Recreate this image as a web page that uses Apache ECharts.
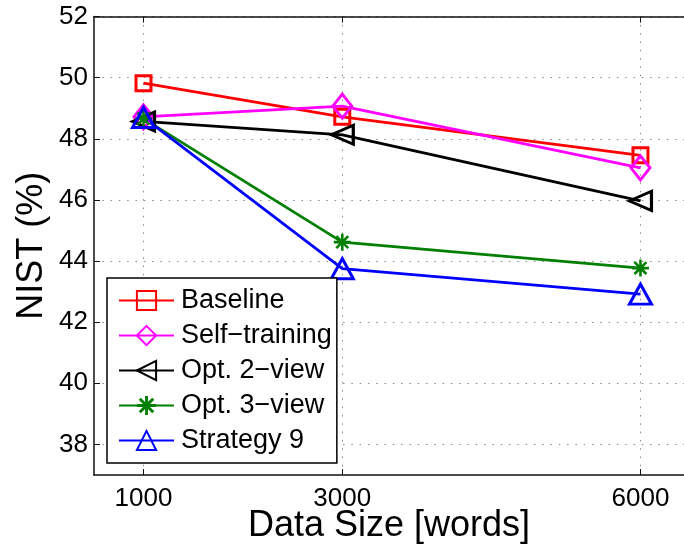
<!DOCTYPE html>
<html>
<head>
<meta charset="utf-8">
<script src="https://cdn.jsdelivr.net/npm/echarts@6/dist/echarts.min.js"></script>
<style>
  html, body { margin: 0; padding: 0; background: #fff; }
  #chart { width: 684px; height: 550px; }
</style>
</head>
<body>
<div id="chart"></div>
<script>
// Training data sizes (words) and NIST scores (%) per method
const dataSizes = [1000, 3000, 6000];
const baseline = [49.82, 48.72, 47.46];
const selfTraining = [48.72, 49.07, 47.05];
const opt2View = [48.57, 48.13, 45.97];
const opt3View = [48.66, 44.62, 43.77];
const strategy9 = [48.70, 43.75, 42.92];

const yTicks = [38, 40, 42, 44, 46, 48, 50, 52];
const xTicks = [1000, 3000, 6000];

const FONT = '"Liberation Sans", Arial, Helvetica, sans-serif';

// eight-spoke asterisk marker
const ASTERISK = 'path://M-1.5,-10 L1.5,-10 L1.5,10 L-1.5,10 Z ' +
  'M-10,-1.5 L10,-1.5 L10,1.5 L-10,1.5 Z ' +
  'M-5.9,-8.1 L8.1,5.9 L5.9,8.1 L-8.1,-5.9 Z ' +
  'M5.9,-8.1 L8.1,-5.9 L-5.9,8.1 L-8.1,5.9 Z';

function pairs(values) {
  return dataSizes.map((x, i) => [x, values[i]]);
}

function lineSeries(name, values, color, symbol, size, extra) {
  const hollow = symbol !== ASTERISK;
  return Object.assign({
    name: name,
    type: 'line',
    data: pairs(values),
    symbol: symbol,
    symbolSize: size,
    showAllSymbol: true,
    lineStyle: { color: color, width: 2.8 },
    itemStyle: hollow
      ? { color: 'rgba(255,255,255,0)', borderColor: color, borderWidth: 3 }
      : { color: color, borderWidth: 0 },
    emphasis: { disabled: true },
    animation: false,
    z: 3
  }, extra || {});
}

const plainNumber = v => String(v);

const chart = echarts.init(document.getElementById('chart'), null, { renderer: 'canvas' });

chart.setOption({
  backgroundColor: '#fff',
  animation: false,
  textStyle: { fontFamily: FONT },
  grid: {
    left: 94, top: 16.6, right: 0, bottom: 75,
    outerBoundsMode: 'none',
    containLabel: false,
    show: false
  },
  legend: {
    orient: 'vertical',
    left: 107, top: 278,
    backgroundColor: '#fff',
    borderColor: '#000',
    borderWidth: 1.5,
    borderRadius: 0,
    padding: [9, 5, 9, 11],
    itemWidth: 55,
    itemHeight: 24,
    itemGap: 8,
    textStyle: { fontFamily: FONT, fontSize: 27, color: '#000', padding: [0, 0, 0, 2] },
    data: ['Baseline', 'Self\u2212training', 'Opt. 2\u2212view', 'Opt. 3\u2212view', 'Strategy 9']
  },
  xAxis: [{
    type: 'value',
    min: 502, max: 6438,
    position: 'bottom',
    name: 'Data Size [words]',
    nameLocation: 'middle',
    nameGap: 33,
    nameMoveOverlap: false,
    nameTextStyle: { fontFamily: FONT, fontSize: 36, color: '#000' },
    axisLine: { show: true, onZero: false, lineStyle: { color: '#111', width: 1.5 } },
    axisTick: { show: true, inside: true, length: 6, customValues: xTicks, lineStyle: { color: '#111', width: 1 } },
    axisLabel: { customValues: xTicks, formatter: plainNumber, fontFamily: FONT, fontSize: 26, color: '#000', margin: 11 },
    splitLine: { show: true, lineStyle: { color: '#888', width: 1, type: [1.5, 6.8] } }
  }, {
    type: 'value',
    min: 502, max: 6438,
    position: 'top',
    axisLine: { show: true, onZero: false, lineStyle: { color: '#111', width: 1.5 } },
    axisTick: { show: true, inside: true, length: 6, customValues: xTicks, lineStyle: { color: '#111', width: 1 } },
    axisLabel: { show: false },
    splitLine: { show: false }
  }],
  yAxis: {
    type: 'value',
    min: 37, max: 52,
    name: 'NIST (%)',
    nameLocation: 'middle',
    nameGap: 44,
    nameMoveOverlap: false,
    nameTextStyle: { fontFamily: FONT, fontSize: 36, color: '#000' },
    axisLine: { show: true, onZero: false, lineStyle: { color: '#111', width: 1.5 } },
    axisTick: { show: true, inside: true, length: 6, customValues: yTicks, lineStyle: { color: '#111', width: 1 } },
    axisLabel: { customValues: yTicks, formatter: plainNumber, fontFamily: FONT, fontSize: 26, color: '#000', margin: 6 },
    splitLine: { show: true, lineStyle: { color: '#888', width: 1, type: [1.5, 6.8] } }
  },
  series: [
    lineSeries('Baseline', baseline, '#ff0000', 'rect', 15),
    lineSeries('Self\u2212training', selfTraining, '#ff00ff', 'diamond', [19, 24]),
    lineSeries('Opt. 2\u2212view', opt2View, '#000000', 'triangle', [19, 22], { symbolRotate: 90 }),
    lineSeries('Opt. 3\u2212view', opt3View, '#007f00', ASTERISK, 17),
    lineSeries('Strategy 9', strategy9, '#0000ff', 'triangle', [22, 20])
  ]
});
</script>
</body>
</html>
